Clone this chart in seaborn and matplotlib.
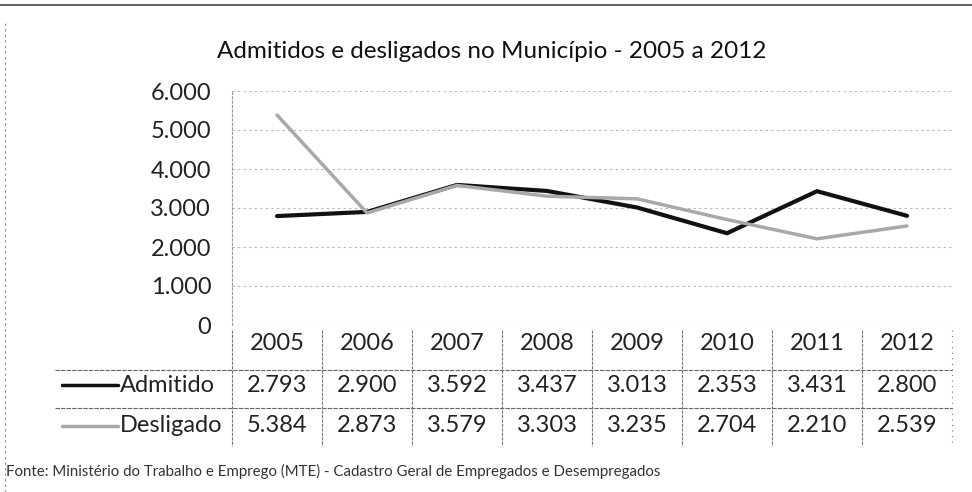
import matplotlib.pyplot as plt
import matplotlib.transforms as mtransforms
from matplotlib.ticker import FuncFormatter
import seaborn as sns
import pandas as pd

years = [2005, 2006, 2007, 2008, 2009, 2010, 2011, 2012]
admitido = [2793, 2900, 3592, 3437, 3013, 2353, 3431, 2800]
desligado = [5384, 2873, 3579, 3303, 3235, 2704, 2210, 2539]
series_names = ["Admitido", "Desligado"]
series_colors = ["#111111", "#a8a8a8"]

title = "Admitidos e desligados no Município - 2005 a 2012"
source = "Fonte: Ministério do Trabalho e Emprego (MTE) - Cadastro Geral de Empregados e Desempregados"


def br(v):
    # thousands with a dot, as in the original
    return f"{int(v):,}".replace(",", ".")


df = pd.DataFrame({
    "ano": years * 2,
    "valor": admitido + desligado,
    "serie": ["Admitido"] * len(years) + ["Desligado"] * len(years),
})

sns.set_theme(style="white")
plt.rcParams["font.family"] = ["Lato", "DejaVu Sans"]

W, H = 972, 492
fig = plt.figure(figsize=(W / 100, H / 100), dpi=100)
# axes in pixel coords: left 232, right 952, top 91 (6000), bottom 325 (0)
ax = fig.add_axes([232 / W, 1 - 325 / H, 720 / W, 234 / H])

sns.lineplot(
    data=df, x="ano", y="valor", hue="serie",
    palette=dict(zip(series_names, series_colors)),
    linewidth=3, legend=False, ax=ax,
)
ax.lines[1].set_linewidth(2.5)

ax.set_xlim(2004.5, 2012.5)
ax.set_ylim(0, 6000)
ax.set_yticks(range(0, 6001, 1000))
ax.yaxis.set_major_formatter(FuncFormatter(lambda v, p: br(v)))
ax.tick_params(axis="y", labelsize=17, pad=15, length=0, labelcolor="#222222")
ax.set_xticks([])
ax.set_xlabel("")
ax.set_ylabel("")
ax.grid(axis="y", color="#b5b5b5", linestyle=(0, (2, 3)), linewidth=0.8)
for s in ["top", "right", "bottom"]:
    ax.spines[s].set_visible(False)
ax.spines["left"].set_color("#999999")
ax.spines["left"].set_linestyle((0, (2, 2)))
ax.spines["left"].set_linewidth(0.8)

# ---- data table under the plot ----
tr = mtransforms.blended_transform_factory(ax.transData, ax.transAxes)
row_year, row_adm, row_des = -0.08, -0.258, -0.43
for i, y in enumerate(years):
    ax.text(y, row_year, str(y), transform=tr, ha="center", va="center",
            fontsize=17, color="#222222", clip_on=False)
    ax.text(y, row_adm, br(admitido[i]), transform=tr, ha="center",
            va="center", fontsize=17, color="#222222", clip_on=False)
    ax.text(y, row_des, br(desligado[i]), transform=tr, ha="center",
            va="center", fontsize=17, color="#222222", clip_on=False)

# vertical separators
for b in [y - 0.5 for y in years] + [2012.5]:
    ax.plot([b, b], [-0.02, -0.515], transform=tr, color="#777777",
            lw=0.8, linestyle=(0, (3, 1)) if b != 2012.5 else (0, (1, 4)),
            clip_on=False)

# horizontal separators (start left of the plot, under the labels)
fx = fig.transFigure
for yy in [1 - 370 / H, 1 - 408 / H]:
    fig.add_artist(plt.Line2D([55 / W, 952 / W], [yy, yy], transform=fx,
                              color="#666666", lw=0.8, linestyle=(0, (4, 1))))

# row labels with legend keys
for name, col, ry in zip(series_names, series_colors, [row_adm, row_des]):
    ax.text(2004.5 - 1.244, ry, name, transform=tr, ha="left", va="center",
            fontsize=17, color="#222222", clip_on=False)
    ax.plot([2004.5 - 1.889, 2004.5 - 1.267], [ry, ry], transform=tr,
            color=col, lw=2.5, clip_on=False)

# title and source
fig.text(492 / W, 1 - 51 / H, title, ha="center", va="center",
         fontsize=17.5, color="#111111")
fig.text(6 / W, 1 - 471 / H, source, ha="left", va="center",
         fontsize=10.8, color="#333333")

# scanned frame edges
fig.add_artist(plt.Line2D([0, 1], [1 - 5 / H, 1 - 5 / H], transform=fx,
                          color="#444444", lw=1.2))
fig.add_artist(plt.Line2D([5 / W, 5 / W], [0, 1 - 20 / H], transform=fx,
                          color="#888888", lw=0.8, linestyle=(0, (2, 3))))

fig.savefig("out.png", dpi=100, facecolor="white")
